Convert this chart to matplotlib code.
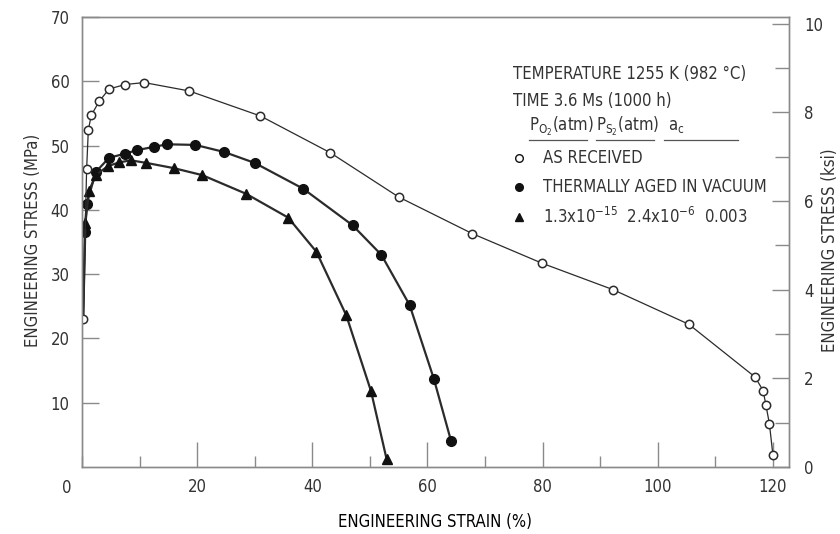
import matplotlib
matplotlib.use("Agg")
import numpy as np
import matplotlib.pyplot as plt
from matplotlib.ticker import MultipleLocator

plt.rcParams.update({
    "font.family": ["DejaVu Sans"],
    "font.stretch": "condensed",
    "font.size": 12,
    "text.color": "#333333",
})

# tensile curves at 1255 K, 3.6 Ms (strain %, stress MPa)
asrec_strain = [0.2, 0.8, 1.1, 1.6, 3.0, 4.7, 7.5, 10.8, 18.6, 31.0, 43.1, 55.0, 67.8, 79.9,
                92.2, 105.4, 116.9, 118.3, 118.8, 119.4, 120.0]
asrec_stress = [23.0, 46.3, 52.4, 54.7, 56.9, 58.8, 59.5, 59.8, 58.5, 54.6, 48.9, 42.0, 36.3, 31.7,
                27.6, 22.2, 14.0, 11.9, 9.6, 6.7, 1.9]

# first point of each black curve is the unmarked start of loading
aged_strain = [0.2, 0.5, 0.8, 2.4, 4.7, 7.5, 9.6, 12.5, 14.8, 19.7, 24.7, 30.0, 38.4, 47.0,
               52.0, 56.9, 61.1, 64.1]
aged_stress = [23.0, 36.5, 40.9, 45.9, 48.1, 48.75, 49.3, 49.8, 50.2, 50.1, 49.0, 47.3, 43.3, 37.6,
               33.0, 25.2, 13.75, 4.06]

tri_strain = [0.2, 0.6, 1.2, 2.5, 4.5, 6.5, 8.5, 11.2, 15.9, 20.9, 28.5, 35.8, 40.7, 45.9, 50.2, 52.9]
tri_stress = [23.0, 38.0, 43.0, 45.5, 46.8, 47.4, 47.7, 47.3, 46.5, 45.4, 42.5, 38.8, 33.5, 23.6,
              11.8, 1.25]

x_major = [20, 40, 60, 80, 100, 120]
y_major = [10, 20, 30, 40, 50, 60, 70]
ksi_major = [0, 2, 4, 6, 8, 10]
MPA_PER_KSI = 6.895

W, H = 840, 534
fig = plt.figure(figsize=(W / 100, H / 100), dpi=100)
ax = fig.add_axes([82 / W, 67 / H, (789 - 82) / W, (467 - 17) / H])

LINE = "#2b2b2b"
AXC = "#8a8a8a"

ax.plot(asrec_strain, asrec_stress, "-", color=LINE, lw=0.9, marker="o", ms=6,
        mfc="white", mec=LINE, mew=1.1, zorder=4)
ax.plot(aged_strain, aged_stress, "-", color=LINE, lw=1.6, marker="o", ms=7,
        mfc="#111111", mec="#111111", markevery=slice(1, None), zorder=3)
ax.plot(tri_strain, tri_stress, "-", color=LINE, lw=1.6, marker="^", ms=6.5,
        mfc="#111111", mec="#111111", markevery=slice(1, None), zorder=3)

ax.set_xlim(0, 122.8)
ax.set_ylim(0, 70)
for s in ax.spines.values():
    s.set_color(AXC)
    s.set_linewidth(1.0)

ax.set_xticks(x_major)
ax.set_xticklabels([str(v) for v in x_major])
ax.xaxis.set_minor_locator(MultipleLocator(10))
ax.set_yticks(y_major)
ax.set_yticklabels([str(v) for v in y_major])
ax.tick_params(axis="x", which="major", direction="in", length=18, width=1, color=AXC,
               pad=8, labelsize=12, labelcolor="#333333", top=False)
ax.tick_params(axis="x", which="minor", direction="in", length=8, width=1, color=AXC, top=False)
ax.tick_params(axis="y", which="major", direction="in", length=12, width=1, color=AXC,
               pad=9, labelsize=12, labelcolor="#333333", right=False)
# shared corner zero
ax.annotate("0", xy=(0, 0), xycoords="data", xytext=(-11, -15), textcoords="offset points",
            ha="center", va="center", fontsize=12, color="#333333")

ax2 = ax.twinx()
ax2.set_ylim(0, 70 / MPA_PER_KSI)
ax2.set_yticks(ksi_major)
ax2.set_yticklabels([str(v) for v in ksi_major])
ax2.yaxis.set_minor_locator(MultipleLocator(1))
ax2.tick_params(axis="y", which="major", direction="in", length=12, width=1, color=AXC,
                pad=11, labelsize=12, labelcolor="#333333")
ax2.tick_params(axis="y", which="minor", direction="in", length=10, width=1, color=AXC)
for s in ax2.spines.values():
    s.set_color(AXC)
    s.set_linewidth(1.0)

ax.set_xlabel("ENGINEERING STRAIN (%)", fontsize=12, labelpad=12)
fig.text(33 / W, 1 - 240 / H, "ENGINEERING STRESS (MPa)", rotation=90, ha="center",
         va="center", fontsize=12)
fig.text(830 / W, 1 - 250 / H, "ENGINEERING STRESS (ksi)", rotation=90, ha="center",
         va="center", fontsize=12)


def ftext(x, y, s, **kw):
    fig.text(x / W, 1 - y / H, s, va="center", ha="left", fontsize=12, **kw)


ftext(513, 74, "TEMPERATURE 1255 K (982 °C)")
ftext(513, 101, "TIME 3.6 Ms (1000 h)")
ftext(529, 126, r"P$_{\mathregular{O_2}}$(atm)")
ftext(596, 126, r"P$_{\mathregular{S_2}}$(atm)")
ftext(668, 126, r"a$_{\mathregular{c}}$")
for x0, x1 in [(529, 587), (596, 654), (664, 738)]:
    fig.add_artist(plt.Line2D([x0 / W, x1 / W], [1 - 140 / H] * 2, color="#555555", lw=0.9))

for y, m, fc in [(158, "o", "white"), (187, "o", "#111111"), (217, "^", "#111111")]:
    fig.add_artist(plt.Line2D([519 / W], [1 - y / H], marker=m, ms=5.5, mfc=fc,
                              mec="#111111", mew=1.0, ls="none"))
ftext(543, 158, "AS RECEIVED")
ftext(543, 187, "THERMALLY AGED IN VACUUM")
ftext(543, 217, r"1.3x10$^{\mathregular{-15}}$  2.4x10$^{\mathregular{-6}}$  0.003")

fig.savefig("out.png", dpi=100, facecolor="white")
